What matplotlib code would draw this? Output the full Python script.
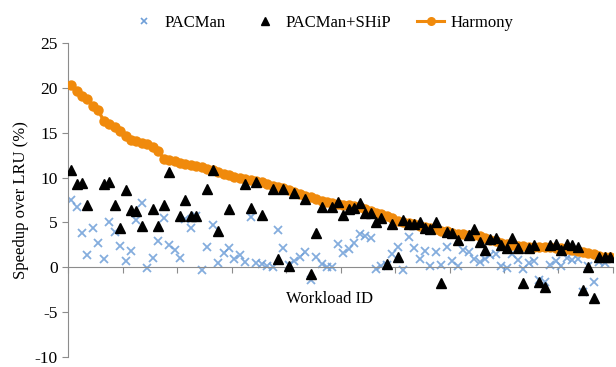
import numpy as np
import matplotlib
matplotlib.use('Agg')
import matplotlib.pyplot as plt
from matplotlib.lines import Line2D

plt.rcParams['font.family'] = ['Liberation Serif', 'DejaVu Serif']
plt.rcParams['axes.unicode_minus'] = False

nan = np.nan

# speedup over LRU (%) per workload, workloads sorted by Harmony speedup
harmony = [
    20.3, 19.6, 19.1, 18.7, 18.0, 17.5, 16.3, 16.0, 15.6, 15.2,
    14.6, 14.2, 14.1, 13.9, 13.7, 13.4, 13.0, 12.1, 12.0, 11.8,
    11.6, 11.5, 11.4, 11.3, 11.2, 10.9, 10.8, 10.6, 10.4, 10.3,
    10.1, 9.9, 9.8, 9.7, 9.6, 9.5, 9.3, 9.1, 8.9, 8.8,
    8.6, 8.4, 8.2, 8.0, 7.8, 7.6, 7.4, 7.3, 7.2, 7.1,
    7.0, 6.9, 6.8, 6.7, 6.5, 6.3, 6.1, 5.9, 5.7, 5.5,
    5.2, 5.0, 4.9, 4.8, 4.6, 4.5, 4.4, 4.3, 4.1, 4.0,
    3.8, 3.7, 3.7, 3.6, 3.6, 3.5, 3.3, 3.1, 2.9, 2.7,
    2.6, 2.5, 2.4, 2.4, 2.3, 2.3, 2.3, 2.3, 2.3, 2.2,
    2.1, 2.0, 1.9, 1.8, 1.7, 1.6, 1.5, 1.3, 1.2, 1.1,
]

pacman = [
    7.55, 6.7, 3.85, 1.4, 4.4, 2.7, 0.95, 5.0, 3.95, 2.35,
    0.65, 1.8, 5.3, 7.2, -0.05, 1.05, 2.9, 5.55, 2.5, 1.95,
    1.0, 5.4, 4.4, 5.7, -0.25, 2.25, 4.75, 0.45, 1.6, 2.15,
    0.9, 1.4, 0.55, 5.65, 0.5, 0.4, 0.15, 0.05, 4.2, 2.2,
    0.3, 0.7, 1.1, 1.7, -1.4, 1.15, 0.4, 0.0, 0.05, 2.55,
    1.55, 2.0, 2.7, 3.75, 3.45, 3.3, -0.2, 0.15, 0.3, 1.5,
    2.3, -0.25, 3.4, 2.2, 0.95, 1.8, 0.1, 1.75, 0.3, 2.25,
    0.75, 0.1, 1.9, 1.75, 0.9, 0.6, 0.9, 1.4, 1.45, 0.2,
    -0.1, 1.45, 0.85, -0.15, 0.5, 0.7, -1.45, -1.65, 0.3, 0.65,
    0.1, 1.05, 0.85, 0.9, -2.75, 0.1, -1.65, 0.6, 0.45, 0.9,
]

pacman_ship = [
    10.8, 9.3, 9.45, 6.9, nan, nan, 9.3, 9.5, 6.9, 4.35,
    8.6, 6.4, 6.3, 4.65, nan, 6.5, 4.65, 6.9, 10.6, nan,
    5.75, 7.45, 5.75, 5.75, nan, 8.7, 10.8, 4.1, nan, 6.45,
    nan, nan, 9.3, 6.6, 9.5, 5.8, nan, 8.7, 0.95, 8.7,
    0.2, 8.3, nan, 7.6, -0.7, 3.8, 6.7, nan, 6.7, 7.3,
    5.8, 6.45, 6.6, 7.2, 6.0, 6.0, 5.05, 5.45, 0.4, 4.85,
    1.15, 5.25, 4.85, 4.85, 5.0, 4.35, 4.3, 5.05, -1.8, 3.9,
    3.8, 3.1, nan, 3.55, 4.3, 2.8, 1.95, 3.2, 3.3, 2.45,
    2.1, 3.3, 2.2, -1.8, 2.2, 2.45, -1.65, -2.2, 2.45, 2.6,
    1.9, 2.6, 2.45, 2.25, -2.55, 0.05, -3.4, 1.15, 1.15, 1.1,
]

BLUE = '#6f9fd8'
ORANGE = '#f08a0c'
AXIS = '#8c8c8c'

x = np.arange(len(harmony))

fig = plt.figure(figsize=(6.16, 3.67), dpi=100)
ax = fig.add_axes([0.111, 0.027, 0.884, 0.856])

ax.plot(x, pacman, linestyle='none', marker='x', color=BLUE, markersize=5.5, markeredgewidth=1.3, alpha=0.85, zorder=2)
ax.plot(x, harmony, color=ORANGE, linewidth=2.4, marker='o', markersize=7.5, markeredgewidth=0, zorder=3)
ax.plot(x, pacman_ship, linestyle='none', marker='^', color='black', markersize=6.5, zorder=4)

ax.set_xlim(-0.5, len(harmony) - 0.5)
ax.set_ylim(-10, 25)
ax.set_yticks(range(-10, 30, 5))
ax.set_xticks(np.arange(-0.5, len(harmony), 10))
ax.set_xticklabels([])

for side in ['top', 'right']:
    ax.spines[side].set_visible(False)
ax.spines['bottom'].set_position(('data', 0))
ax.spines['bottom'].set_color(AXIS)
ax.spines['left'].set_color(AXIS)
ax.tick_params(axis='both', colors=AXIS, direction='out', length=4, width=0.8, labelsize=12.5, labelcolor='black')

ax.set_ylabel('Speedup over LRU (%)', fontsize=12, labelpad=4)
ax.text(0.479, 0.185, 'Workload ID', transform=ax.transAxes, ha='center', va='center', fontsize=12)

handles = [
    Line2D([], [], linestyle='none', marker='x', color=BLUE, markersize=5, markeredgewidth=1.2),
    Line2D([], [], linestyle='none', marker='^', color='black', markersize=5.5),
    Line2D([], [], color=ORANGE, linewidth=2.2, marker='o', markersize=6.5, markeredgewidth=0),
]
fig.legend(handles, ['PACMan', 'PACMan+SHiP', 'Harmony'], loc='upper center', bbox_to_anchor=(0.523, 1.0),
           ncol=3, frameon=False, fontsize=12, handlelength=1.6, columnspacing=1.6, handletextpad=0.4)

fig.savefig('out.png', dpi=100)
